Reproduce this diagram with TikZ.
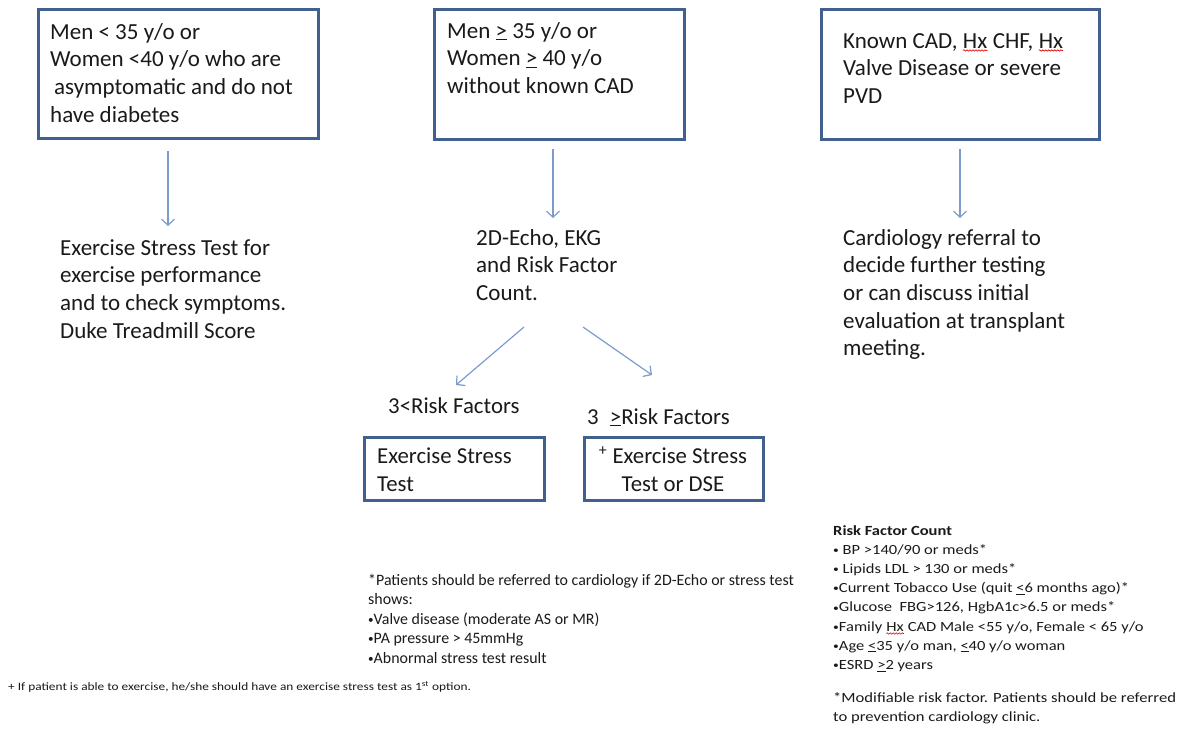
\documentclass[tikz,border=0pt]{standalone}
\usepackage{fontspec}
\usepackage{graphicx}
\setmainfont{Carlito}
\newfontfamily\widefont{Carlito}[FakeStretch=1.18]
\usetikzlibrary{arrows.meta,decorations.pathmorphing}
\definecolor{boxblue}{HTML}{42608F}
\definecolor{arrblue}{HTML}{7C9CCF}
\definecolor{textc}{HTML}{1A1A1A}
\newcommand\mlines[1]{\begin{tabular}[t]{@{}l@{}}#1\end{tabular}}
\newcommand\mlinesc[1]{\begin{tabular}[t]{@{}c@{}}#1\end{tabular}}
\newcommand\fbigtxt{\fontsize{23}{27.7}\selectfont}
\newcommand\fmidtxt{\fontsize{22.8}{28.5}\selectfont}
\newcommand\fsmltxt{\fontsize{15.9}{19.6}\selectfont}
\newcommand\frsktxt{\widefont\fontsize{14}{19.2}\selectfont}
\newcommand\fmodtxt{\widefont\fontsize{14.1}{19.4}\selectfont}
\newcommand\ftinytxt{\widefont\fontsize{11.3}{13}\selectfont}
\newcommand\bul{\raisebox{0.12ex}{\scalebox{0.7}{•}}}
\tikzset{
  box/.style={draw=boxblue, line width=2.6pt, inner sep=0pt},
  arr/.style={draw=arrblue, line width=1.2pt, -{Straight Barb[length=6pt,width=13pt,line width=1.2pt]}},
  txt/.style={anchor=base west, inner sep=0pt, text=textc},
  squig/.style={draw=red!85!black, line width=0.6pt, decorate, decoration={snake, amplitude=0.7pt, segment length=3pt}}
}
\newcommand\spell[1]{\tikz[baseline=(w.base)]{\node[inner sep=0pt, outer sep=0pt] (w) {#1}; \draw[squig] ([yshift=-2.5pt]w.south west) -- ([yshift=-2.5pt]w.south east);}}
\begin{document}
\begin{tikzpicture}[x=1pt,y=-1pt]
\useasboundingbox[fill=white] (0,0) rectangle (1185,739);

% top boxes
\node[box, minimum width=280pt, minimum height=129pt, anchor=north west] (b1) at (37,8) {};
\node[box, minimum width=250pt, minimum height=130pt, anchor=north west] (b2) at (433,8) {};
\node[box, minimum width=278pt, minimum height=130pt, anchor=north west] (b3) at (820,8) {};

\node[txt] (t1) at (50,39) {\fbigtxt\mlines{Men < 35 y/o or\\ Women <40 y/o who are\\ \hspace{4pt}asymptomatic and do not\\ have diabetes}};
\node[txt] (t2) at (447,38) {\fbigtxt\mlines{Men \underline{>} 35 y/o or\\ Women \underline{>} 40 y/o\\ without known CAD}};
\node[txt] (t3) at (843,48) {\fbigtxt\mlines{Known CAD, \spell{Hx} CHF, \spell{Hx}\\ Valve Disease or severe\\ PVD}};

% second level texts
\node[txt] (r1) at (60,255) {\fbigtxt\mlines{Exercise Stress Test for\\ exercise performance\\ and to check symptoms.\\ Duke Treadmill Score}};
\node[txt] (r2) at (476,245) {\fbigtxt\mlines{2D-Echo, EKG\\ and Risk Factor\\ Count.}};
\node[txt] (r3) at (843,245) {\fbigtxt\mlines{Cardiology referral to\\ decide further testing\\ or can discuss initial\\ evaluation at transplant\\ meeting.}};

% arrows
\coordinate (a1s) at (168,151); \coordinate (a1e) at (168,226);
\coordinate (a2s) at (553,149); \coordinate (a2e) at (553,218);
\coordinate (a3s) at (960,149); \coordinate (a3e) at (960,218);
\coordinate (a4s) at (524,327); \coordinate (a4e) at (456,385);
\coordinate (a5s) at (583,327); \coordinate (a5e) at (652,375);
\draw[arr] (a1s) -- (a1e);
\draw[arr] (a2s) -- (a2e);
\draw[arr] (a3s) -- (a3e);
\draw[arr] (a4s) -- (a4e);
\draw[arr] (a5s) -- (a5e);

% risk factor labels
\node[txt] (l1) at (388,413) {\fmidtxt 3<Risk Factors};
\node[txt] (l2) at (587,424) {\fmidtxt 3\hspace{6pt} \underline{>}Risk Factors};

% small boxes
\node[box, minimum width=180pt, minimum height=63pt, anchor=north west] (b4) at (363,436) {};
\node[box, minimum width=179pt, minimum height=63pt, anchor=north west] (b5) at (583,436) {};
\node[txt] (t4) at (377,463) {\fmidtxt\mlines{Exercise Stress\\ Test}};
\node[anchor=base, inner sep=0pt, text=textc] (t5) at (673,463) {\fmidtxt\mlinesc{\textsuperscript{+} Exercise Stress\\ Test or DSE}};

% notes
\node[txt] (n1) at (368,585) {\fsmltxt\mlines{*Patients should be referred to cardiology if 2D-Echo or stress test\\ shows:\\ \bul Valve disease (moderate AS or MR)\\ \bul PA pressure > 45mmHg\\ \bul Abnormal stress test result}};
\node[txt] (n2) at (8,690) {\ftinytxt + If patient is able to exercise, he/she should have an exercise stress test as 1\textsuperscript{st} option.};

\node[txt] (n3) at (833,535) {\frsktxt\mlines{\textbf{Risk Factor Count}\\ \bul\ BP >140/90 or meds*\\ \bul\ Lipids LDL > 130 or meds*\\ \bul Current Tobacco Use (quit \underline{<}6 months ago)*\\ \bul Glucose\ \ FBG>126, HgbA1c>6.5 or meds*\\ \bul Family \spell{Hx} CAD Male <55 y/o, Female < 65 y/o\\ \bul Age \underline{<}35 y/o man, \underline{<}40 y/o woman\\ \bul ESRD \underline{>}2 years}};
\node[txt] (n4) at (833,702) {\fmodtxt\mlines{*Modifiable risk factor. Patients should be referred\\ to prevention cardiology clinic.}};
\end{tikzpicture}
\end{document}
